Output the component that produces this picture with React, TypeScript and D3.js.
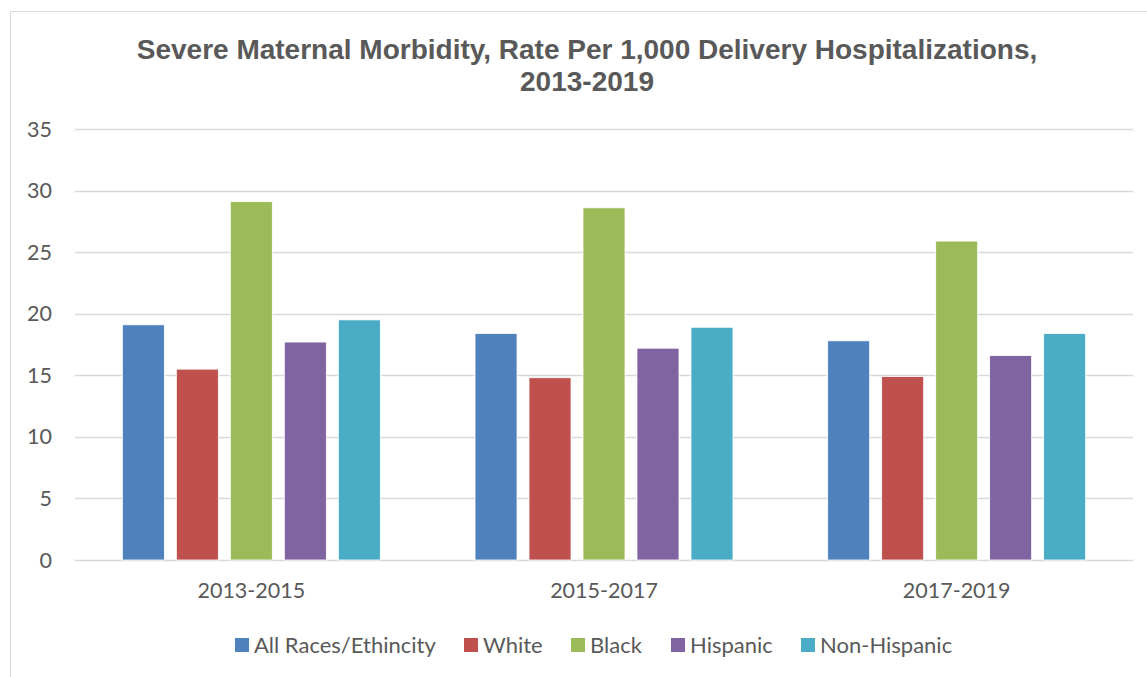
import React, { useEffect, useRef } from "react";
import * as d3 from "d3";

const categories = ["2013-2015", "2015-2017", "2017-2019"];
const seriesNames = ["All Races/Ethincity", "White", "Black", "Hispanic", "Non-Hispanic"];
const seriesColors = ["#4F81BD", "#C0504D", "#9BBB59", "#8064A2", "#4BACC6"];
const allRaces = [19.1, 18.4, 17.8];
const white = [15.5, 14.8, 14.9];
const black = [29.1, 28.6, 25.9];
const hispanic = [17.7, 17.2, 16.6];
const nonHispanic = [19.5, 18.9, 18.4];
const yTicks = [0, 5, 10, 15, 20, 25, 30, 35];
const titleLines = ["Severe Maternal Morbidity, Rate Per 1,000 Delivery Hospitalizations,", "2013-2019"];

const W = 1147, H = 677;

export default function App() {
  const ref = useRef<SVGSVGElement>(null);
  useEffect(() => {
    const svg = d3.select(ref.current);
    svg.selectAll("*").remove();
    const series = [allRaces, white, black, hispanic, nonHispanic];
    const left = 75, right = 1133, top = 129, bottom = 560;
    const textColor = "#595959";
    const font = "Lato, 'Open Sans', sans-serif";

    svg.append("rect").attr("x", 0).attr("y", 0).attr("width", W).attr("height", H).attr("fill", "#fff");
    svg.append("rect").attr("x", 10.5).attr("y", 11.5).attr("width", W + 20).attr("height", H + 20)
      .attr("fill", "#fff").attr("stroke", "#D9D9D9").attr("stroke-width", 1);

    const y = d3.scaleLinear().domain([0, 35]).range([bottom, top]);
    const x0 = d3.scaleBand<string>().domain(categories).range([left, right]).paddingInner(0).paddingOuter(0);
    const x1 = d3.scaleBand<string>().domain(seriesNames).range([0, x0.bandwidth()]).paddingInner(0.222).paddingOuter(0.877);

    svg.append("g").selectAll("line").data(yTicks).join("line")
      .attr("x1", left).attr("x2", right)
      .attr("y1", d => Math.round(y(d)) + 0.5).attr("y2", d => Math.round(y(d)) + 0.5)
      .attr("stroke", "#D9D9D9").attr("stroke-width", 1.3);

    svg.append("g").selectAll("text").data(yTicks).join("text")
      .attr("x", 52).attr("y", d => y(d)).attr("dy", "0.35em")
      .attr("text-anchor", "end").attr("fill", textColor)
      .style("font-family", font).style("font-size", "21.5px")
      .text(d => String(d));

    const g = svg.append("g");
    categories.forEach((c, ci) => {
      seriesNames.forEach((s, si) => {
        const v = series[si][ci];
        g.append("rect")
          .attr("x", (x0(c) as number) + (x1(s) as number))
          .attr("y", y(v))
          .attr("width", x1.bandwidth())
          .attr("height", y(0) - y(v))
          .attr("fill", seriesColors[si])
          .attr("stroke", "#fff").attr("stroke-width", 0.8);
      });
    });

    svg.append("g").selectAll("text").data(categories).join("text")
      .attr("x", d => (x0(d) as number) + x0.bandwidth() / 2).attr("y", 598)
      .attr("text-anchor", "middle").attr("fill", textColor)
      .style("font-family", font).style("font-size", "21.5px")
      .text(d => d);

    svg.append("g").selectAll("text").data(titleLines).join("text")
      .attr("x", 587).attr("y", (d, i) => 59 + i * 32)
      .attr("text-anchor", "middle").attr("fill", textColor)
      .style("font-family", "'Liberation Sans', Arial, sans-serif").style("font-weight", "bold").style("font-size", "28px")
      .text(d => d);

    const legX = [235, 464, 571, 671, 801];
    const lg = svg.append("g");
    seriesNames.forEach((s, i) => {
      lg.append("rect").attr("x", legX[i]).attr("y", 638).attr("width", 14).attr("height", 14).attr("fill", seriesColors[i]);
      lg.append("text").attr("x", legX[i] + 19).attr("y", 645).attr("dy", "0.35em")
        .attr("fill", textColor).style("font-family", font).style("font-size", "22px").text(s);
    });
  }, []);
  return (
    <div style={{ position: "absolute", left: 0, top: 0 }}>
      <svg ref={ref} width={W} height={H} style={{ display: "block" }} />
    </div>
  );
}
